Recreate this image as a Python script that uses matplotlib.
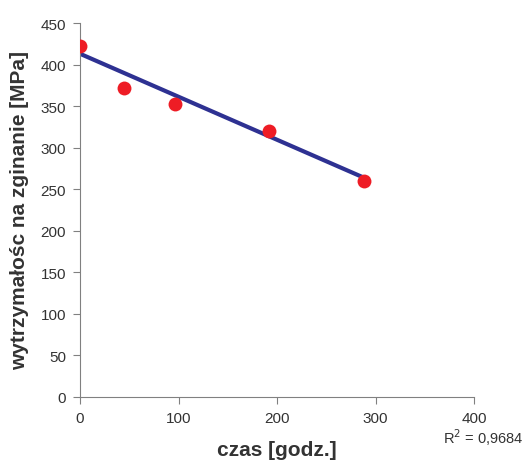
import numpy as np
import matplotlib
matplotlib.use("Agg")
import matplotlib.pyplot as plt

plt.rcParams['font.family'] = ['Liberation Sans', 'DejaVu Sans']

# measured points
czas = [0, 45, 96, 192, 288]
wytrz = [422, 372, 353, 320, 260]

# trend line as drawn (end points)
trend_x = [0, 288]
trend_y = [413, 264]

x_ticks = [0, 100, 200, 300, 400]
y_ticks = list(range(0, 451, 50))

fig = plt.figure(figsize=(5.28, 4.64), dpi=100)
ax = fig.add_axes([80/528, 66/464, 394/528, 374/464])

ax.plot(trend_x, trend_y, color='#2E3192', lw=3.0, solid_capstyle='butt', zorder=2)
ax.plot(czas, wytrz, 'o', color='#EE1C25', ms=10, mec='none', zorder=3)

ax.set_xlim(0, 400)
ax.set_ylim(0, 450)
ax.set_xticks(x_ticks)
ax.set_yticks(y_ticks)
for s in ['top', 'right']:
    ax.spines[s].set_visible(False)
for s in ['left', 'bottom']:
    ax.spines[s].set_color('#808080')
    ax.spines[s].set_linewidth(0.8)
ax.tick_params(direction='out', length=5, width=0.8, color='#808080',
               labelsize=11, labelcolor='#333333', pad=5)

ax.set_xlabel('czas [godz.]', fontsize=15, fontweight='bold', color='#333333', labelpad=11)
ax.set_ylabel('wytrzymałośc na zginanie [MPa]', fontsize=15, fontweight='bold',
              color='#333333', labelpad=8)

# R^2 sits just under the last x tick label
fig.text(524/528, 1 - 438/464, 'R$^2$ = 0,9684', ha='right', va='center',
         fontsize=10.5, color='#333333')

fig.savefig('out.png', dpi=100)
